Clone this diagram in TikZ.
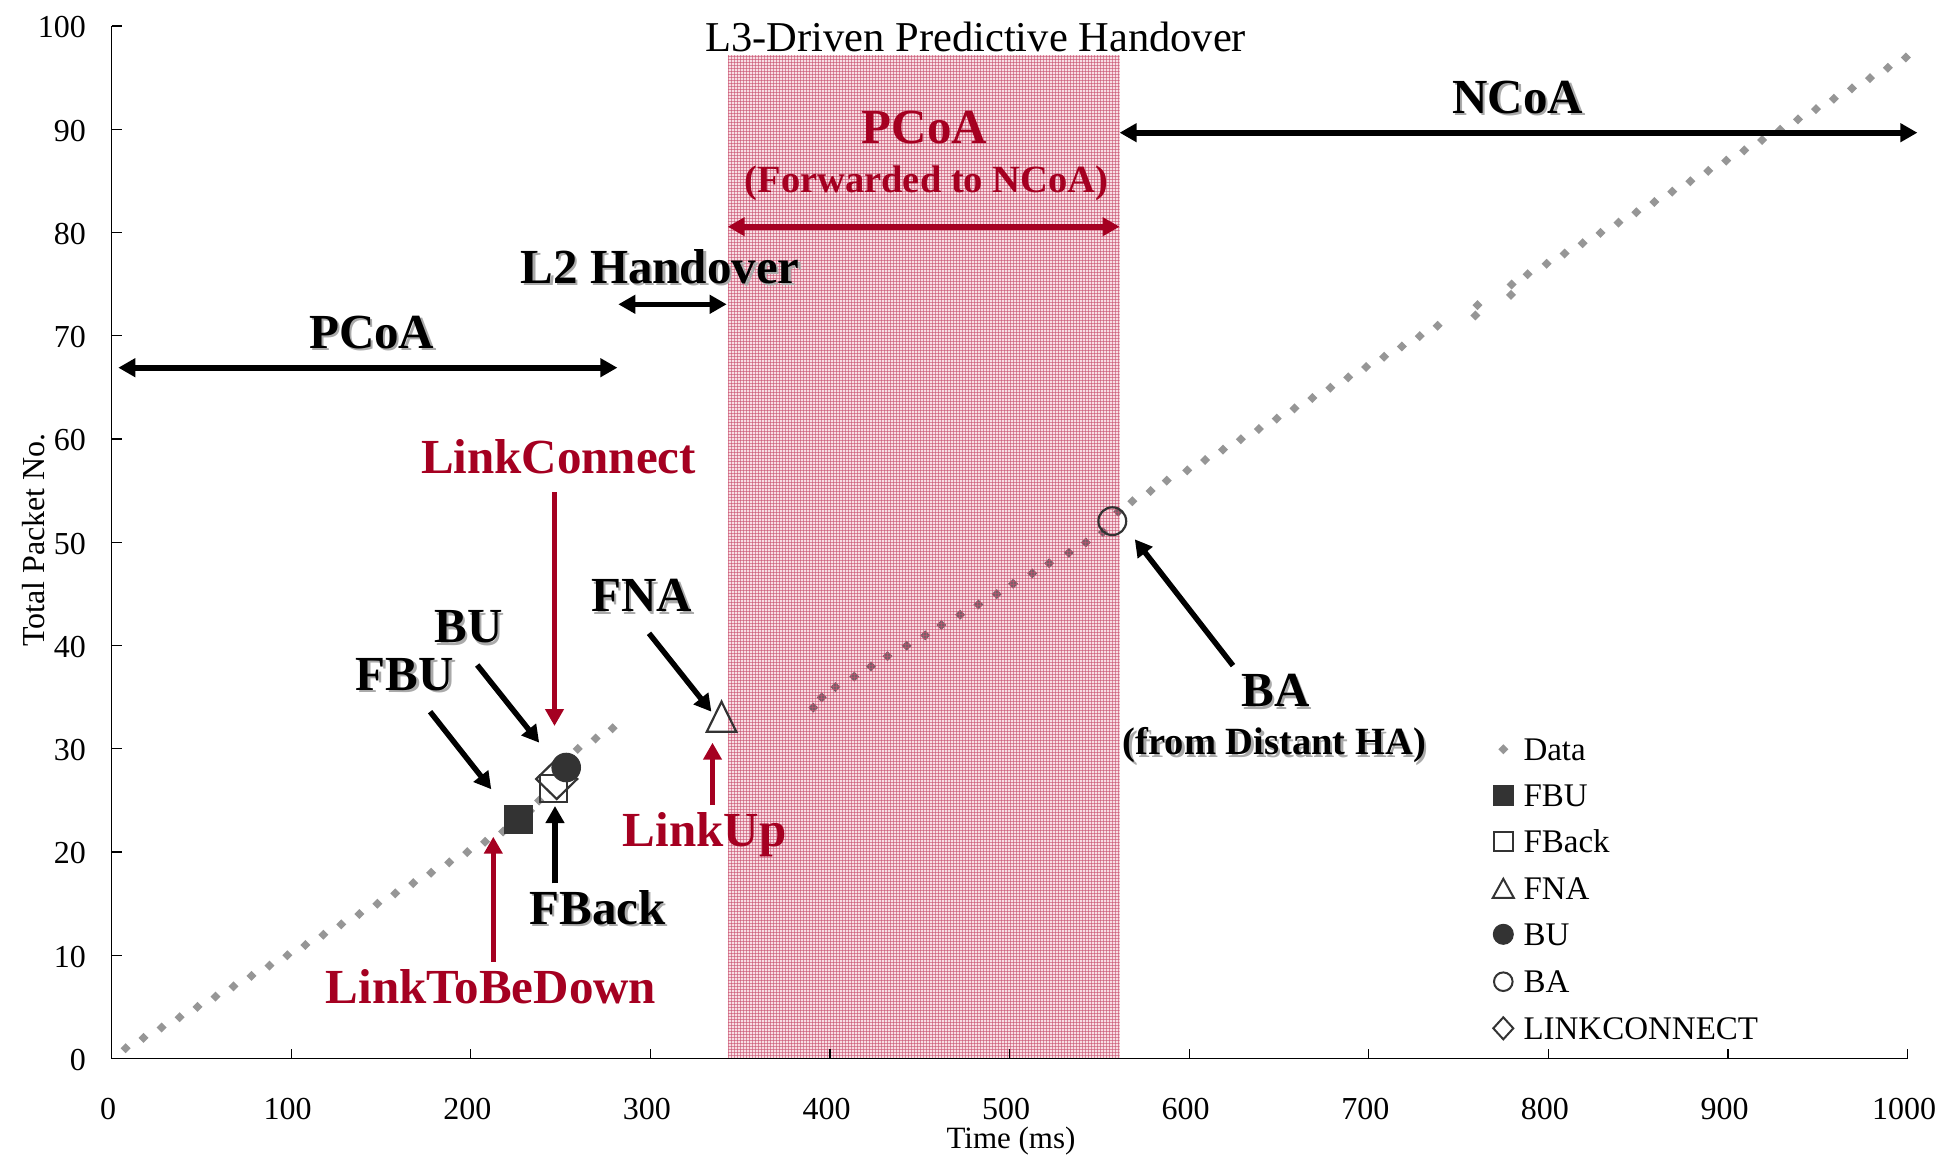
\documentclass[tikz,border=0pt]{standalone}
\usepackage{fontspec}
\setmainfont{Liberation Serif}
\usetikzlibrary{arrows.meta}

\definecolor{linkred}{RGB}{165,0,33}
\definecolor{datagray}{RGB}{150,150,150}
\definecolor{datadark}{RGB}{118,98,106}
\definecolor{markgray}{RGB}{51,51,51}
\definecolor{pinkbase}{RGB}{248,222,228}
\definecolor{pinkline}{RGB}{200,80,110}
\definecolor{shadowgray}{RGB}{170,170,170}

\tikzset{
  biglabel/.style={font=\fontsize{49}{56}\selectfont\bfseries, inner sep=0pt, anchor=base},
  sublabel/.style={font=\fontsize{38.5}{44}\selectfont\bfseries, inner sep=0pt, anchor=base},
  shadowtext/.style={text=shadowgray},
  ticklabel/.style={font=\fontsize{32}{36}\selectfont, inner sep=0pt},
  legendtext/.style={font=\fontsize{33}{38}\selectfont, inner sep=0pt, anchor=base west},
  pointer/.style={line width=5.5pt, -{Triangle[length=17pt,width=18pt]}},
  spanarrow/.style={line width=6pt, {Triangle[length=17pt,width=18pt]}-{Triangle[length=17pt,width=18pt]}},
  openmark/.style={draw=markgray, line width=2.2pt},
  fullmark/.style={fill=markgray, draw=markgray, line width=1pt},
  hatchline/.style={draw=pinkline, line width=0.8pt, draw opacity=0.6},
}

% small grey diamond used for the packet samples
\newcommand{\datadiamond}[3]{%
  \fill[#1] (#2,#3) ++(0pt,5pt) -- ++(5pt,-5pt) -- ++(-5pt,-5pt) -- ++(-5pt,5pt) -- cycle;}

% bold annotation with a soft grey drop shadow: name, style, x, y, text
\newcommand{\shadowlabel}[5]{%
  \node[#2, shadowtext] (#1-shade) at (#3+2.5,#4+2.5) {#5};
  \node[#2] (#1) at (#3,#4) {#5};}

\begin{document}
\begin{tikzpicture}[x=1pt,y=-1pt]
\useasboundingbox (0,0) rectangle (1955,1159);
\fill[white] (0,0) rectangle (1955,1159);

% ---- forwarding period (hatched band) ----
\fill[pinkbase] (727.7,55) rectangle (1119.6,1058.5);

% ---- packet samples ----
\begin{scope}[shift={(111.6,1058.5)}, x=1.796pt, y=10.32pt]
  \foreach \n in {1,...,22} {
    \pgfmathsetmacro\t{7.8+10.01*(\n-1)}
    \datadiamond{datagray}{\t}{\n}
  }
  \foreach \t/\n in {228/23, 233/24, 238.1/25, 259.5/30, 269.5/31, 279/32}
    {\datadiamond{datagray}{\t}{\n}}
  \foreach \t/\n in {390.7/34, 395.4/35, 403/36, 413.5/37, 422.8/38, 432/39,
      442.7/40, 453/41, 462/42, 472.4/43, 482.6/44, 492.8/45, 502/46,
      512.6/47, 522/48, 533/49, 542.5/50, 552/51, 560.5/53}
    {\datadiamond{datadark}{\t}{\n}}
  \foreach \t/\n in {568.3/54, 578.5/55, 587.5/56, 598.9/57}
    {\datadiamond{datagray}{\t}{\n}}
  \foreach \n in {58,...,71} {
    \pgfmathsetmacro\t{598.9+9.96*(\n-57)}
    \datadiamond{datagray}{\t}{\n}
  }
  \foreach \t/\n in {759.3/72, 760.5/73, 779.2/74, 779.5/75, 788.4/76, 799/77}
    {\datadiamond{datagray}{\t}{\n}}
  \foreach \n in {78,...,97} {
    \pgfmathsetmacro\t{799+10*(\n-77)}
    \datadiamond{datagray}{\t}{\n}
  }
\end{scope}

% hatching over the band
\begin{scope}
  \clip (727.7,55) rectangle (1119.6,1058.5);
  \foreach \gx in {728.5,731.5,...,1120}
    \draw[hatchline] (\gx,55) -- (\gx,1058.5);
  \foreach \gy in {56,59,...,1058}
    \draw[hatchline] (727.7,\gy) -- (1119.6,\gy);
\end{scope}

% ---- signalling markers ----
\filldraw[fullmark] (504.1,805) rectangle (532.5,833.4);
\draw[openmark] (540.2,774.8) rectangle (567.2,801.8);
\draw[openmark] (536.2,779) -- (556.7,759) -- (577.2,779) -- (556.7,799) -- cycle;
\filldraw[fullmark] (566.2,767.5) circle[radius=14.3];
\draw[openmark] (721.5,701.7) -- (736.3,731.7) -- (706.8,731.7) -- cycle;
\draw[openmark] (1112.3,521.2) circle[radius=13.9];

% ---- axes ----
\draw[black, line width=1.6pt] (111.6,26) -- (111.6,1058.5) -- (1907.6,1058.5);
\foreach \k in {0,...,10} {
  \pgfmathsetmacro\yy{1058.5-103.25*\k}
  \pgfmathtruncatemacro\lab{10*\k}
  \draw[line width=1.2pt] (111.6,\yy) -- (121.6,\yy);
  \node[ticklabel, anchor=east] (ylab\k) at (86,\yy+1.5) {\lab};
}
\foreach \k in {0,...,10} {
  \pgfmathsetmacro\xx{111.6+179.6*\k}
  \pgfmathtruncatemacro\lab{100*\k}
  \ifnum\k>0 \draw[line width=1.2pt] (\xx,1058.5) -- (\xx,1048.5); \fi
  \node[ticklabel] (xlab\k) at (\xx-3.5,1109) {\lab};
}
\node[ticklabel, rotate=90] (ytitle) at (33.7,540) {Total Packet No.};
\node[ticklabel, font=\fontsize{31}{36}\selectfont] (xtitle) at (1011,1141) {Time (ms)};
\node[font=\fontsize{42.5}{48}\selectfont, inner sep=0pt, anchor=base] (title)
  at (975.8,51.7) {L3-Driven Predictive Handover};

% ---- period labels and spans ----
\shadowlabel{pcoaold}{biglabel}{371.7}{348.3}{PCoA}
\shadowlabel{l2ho}{biglabel}{660.2}{283.3}{L2 Handover}
\shadowlabel{ncoa}{biglabel}{1517.8}{113.3}{NCoA}
\node[biglabel, text=linkred] (pcoafwd) at (924.4,143.3) {PCoA};
\node[sublabel, text=linkred] (fwdnote) at (926.5,192.7) {(Forwarded to NCoA)};

\coordinate (pcoaL) at (118.3,367.7);  \coordinate (pcoaR) at (617.4,367.7);
\coordinate (l2L) at (618.3,304.3);    \coordinate (l2R) at (726.7,304.3);
\coordinate (fwdL) at (727.7,226.7);   \coordinate (fwdR) at (1119.6,226.7);
\coordinate (ncoaL) at (1119.6,132.7); \coordinate (ncoaR) at (1917.4,132.7);
\draw[spanarrow] (pcoaL) -- (pcoaR);
\draw[spanarrow, line width=5pt] (l2L) -- (l2R);
\draw[spanarrow, linkred] (fwdL) -- (fwdR);
\draw[spanarrow] (ncoaL) -- (ncoaR);

% ---- event labels ----
\node[biglabel, text=linkred] (lconn) at (558.5,473) {LinkConnect};
\shadowlabel{fna}{biglabel}{641.6}{611.7}{FNA}
\shadowlabel{bu}{biglabel}{468.4}{642.7}{BU}
\shadowlabel{fbu}{biglabel}{404.9}{690}{FBU}
\shadowlabel{fback}{biglabel}{597.5}{924}{FBack}
\node[biglabel, text=linkred] (ltbd) at (491,1003.3) {LinkToBeDown};
\node[biglabel, text=linkred] (lup) at (704.7,846.7) {LinkUp};
\shadowlabel{ba}{biglabel}{1275.5}{706.6}{BA}
\shadowlabel{banote}{sublabel}{1274.4}{754.8}{(from Distant HA)}

% ---- event pointers ----
\coordinate (fbuS) at (430.1,711.7);   \coordinate (fbuE) at (491.3,789.3);
\coordinate (buS) at (477.2,665);      \coordinate (buE) at (539.2,742.7);
\coordinate (lcS) at (554.5,492);      \coordinate (lcE) at (554.5,726);
\coordinate (fbS) at (555,883.3);      \coordinate (fbE) at (555,806);
\coordinate (ltS) at (493.3,961.7);    \coordinate (ltE) at (493.3,836.7);
\coordinate (fnaS) at (649,633.3);     \coordinate (fnaE) at (711.4,711.7);
\coordinate (luS) at (712.5,805);      \coordinate (luE) at (712.5,742.7);
\coordinate (baS) at (1233,665.6);     \coordinate (baE) at (1134.8,539.3);
\draw[pointer] (fbuS) -- (fbuE);
\draw[pointer] (buS) -- (buE);
\draw[pointer, linkred] (lcS) -- (lcE);
\draw[pointer] (fbS) -- (fbE);
\draw[pointer, linkred] (ltS) -- (ltE);
\draw[pointer] (fnaS) -- (fnaE);
\draw[pointer, linkred] (luS) -- (luE);
\draw[pointer] (baS) -- (baE);

% ---- legend ----
\fill[datagray] (1503.3,744.3) -- (1508.3,749.3) -- (1503.3,754.3) -- (1498.3,749.3) -- cycle;
\node[legendtext] (legdata) at (1523.3,760.3) {Data};
\filldraw[fullmark] (1493.3,785) rectangle (1513.3,805);
\node[legendtext] (legfbu) at (1523.3,806) {FBU};
\draw[openmark, line width=2pt] (1494,832.4) rectangle (1512.6,851);
\node[legendtext] (legfback) at (1523.3,852.7) {FBack};
\draw[openmark, line width=2pt] (1503.3,878.8) -- (1513.8,897.8) -- (1492.8,897.8) -- cycle;
\node[legendtext] (legfna) at (1523.3,899.3) {FNA};
\filldraw[fullmark] (1503.3,934.3) circle[radius=10];
\node[legendtext] (legbu) at (1523.3,945.3) {BU};
\draw[openmark, line width=2pt] (1503.3,981.7) circle[radius=9.3];
\node[legendtext] (legba) at (1523.3,992.7) {BA};
\draw[openmark, line width=2pt] (1493.3,1028.3) -- (1503.3,1017.3) -- (1513.3,1028.3) -- (1503.3,1039.3) -- cycle;
\node[legendtext] (leglc) at (1523.3,1039.3) {LINKCONNECT};
\end{tikzpicture}
\end{document}
